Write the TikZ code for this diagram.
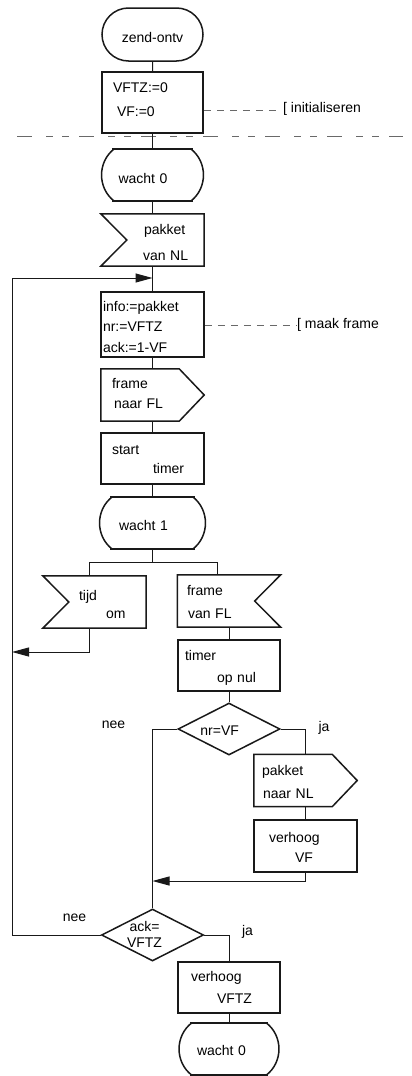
\documentclass[tikz,border=0pt]{standalone}
\usepackage{fontspec}
\setmainfont{Liberation Sans}
\usetikzlibrary{shapes.geometric, shapes.misc, arrows.meta}
\definecolor{lineBlack}{RGB}{25, 25, 25}
\definecolor{noteGray}{RGB}{105, 105, 105}
\newcommand{\decisiontext}[2]{\makebox[0pt]{#2\hspace*{#1}}}

\begin{document}
\begin{tikzpicture}[x=1pt, y=-1pt, font=\fontsize{14}{20}\selectfont,
    outline/.style={draw=lineBlack, line width=1.5pt},
    conn/.style={draw=lineBlack, line width=1pt},
    tip/.style={-{Triangle[length=17pt, width=9pt]}},
    notedash/.style={draw=noteGray, line width=1pt, dash pattern=on 7pt off 6pt},
    sepline/.style={draw=noteGray, line width=1pt,
      dash pattern=on 15pt off 14pt on 7pt off 9pt on 7pt off 10pt},
    txt/.style={inner sep=0pt, align=left, text width=#1, minimum height=52pt},
    txt/.default=103pt,
    box/.style={txt=#1, outline},
    box/.default=103pt,
    startstop/.style={rounded rectangle, outline, inner sep=0pt,
      minimum width=101pt, minimum height=53pt},
    decision/.style={diamond, outline, inner sep=0pt,
      minimum width=102pt, minimum height=52pt},
    waitbox/.style={txt=#1, append after command={\pgfextra{\pgfinterruptpath
      \draw[outline] ([xshift=-2pt]\tikzlastnode.north west) -- ([xshift=2pt]\tikzlastnode.north east)
        ([xshift=-2pt]\tikzlastnode.south west) -- ([xshift=2pt]\tikzlastnode.south east);
      \draw[outline] (\tikzlastnode.north west) .. controls +(-17pt,-13pt) and +(-17pt,13pt) .. (\tikzlastnode.south west);
      \draw[outline] (\tikzlastnode.north east) .. controls +(17pt,-13pt) and +(17pt,13pt) .. (\tikzlastnode.south east);
      \endpgfinterruptpath}}},
    recvleft/.style={txt, append after command={\pgfextra{\pgfinterruptpath
      \draw[outline] (\tikzlastnode.north west) -- (\tikzlastnode.north east) -- (\tikzlastnode.south east)
        -- (\tikzlastnode.south west) -- ([xshift=26pt]\tikzlastnode.west) -- cycle;
      \endpgfinterruptpath}}},
    recvright/.style={txt, append after command={\pgfextra{\pgfinterruptpath
      \draw[outline] (\tikzlastnode.north west) -- (\tikzlastnode.north east) -- ([xshift=-26pt]\tikzlastnode.east)
        -- (\tikzlastnode.south east) -- (\tikzlastnode.south west) -- cycle;
      \endpgfinterruptpath}}},
    sendbox/.style={txt, append after command={\pgfextra{\pgfinterruptpath
      \draw[outline] (\tikzlastnode.north west) -- ([xshift=-25pt]\tikzlastnode.north east) -- (\tikzlastnode.east)
        -- ([xshift=-25pt]\tikzlastnode.south east) -- (\tikzlastnode.south west) -- cycle;
      \endpgfinterruptpath}}},
    note/.style={inner sep=0pt, text height=5pt, text depth=0pt},
    lbl/.style={inner sep=0pt}]

  \useasboundingbox (0,0) rectangle (412,1076);

  % opstart
  \node[startstop, text height=15.6pt, text depth=0pt] (zend) at (152.5,34.5) {zend-ontv};
  \node[box=101pt, minimum height=61pt, text height=0pt, text depth=21pt] (init) at (152.5,102.5)
    {\hspace*{11pt}VFTZ:=0\\[4pt]\hspace*{15pt}VF:=0};
  \node[note, anchor=west] (initnote) at (283,110) {[ initialiseren};
  \draw[sepline] (17,136) -- (403,136);

  % hoofdlus
  \node[waitbox=76pt, text height=16.6pt, text depth=0pt] (wait0a) at (152.5,175) {\hspace*{4pt}wacht 0};
  \node[recvleft, text height=0pt, text depth=11.4pt] (pvnl) at (152.5,240)
    {\hspace*{43pt}pakket\\[5.7pt]\hspace*{42pt}van NL};
  \node[box, minimum height=65pt, text height=0pt, text depth=27pt] (info) at (152.5,324.5)
    {\hspace*{2pt}info:=pakket\\[0.5pt]\hspace*{2pt}nr:=VFTZ\\[0.5pt]\hspace*{2pt}ack:=1-VF};
  \node[note, anchor=west] (framenote) at (297,325.5) {[ maak frame};
  \node[sendbox, text height=0pt, text depth=13.4pt] (fnfl) at (152.5,395)
    {\hspace*{11pt}frame\\\hspace*{13pt}naar FL};
  \node[box, minimum height=51pt, text height=0pt, text depth=9pt] (stimer) at (152.5,458.5)
    {\hspace*{11pt}start\\[-0.7pt]\hspace*{52pt}timer};
  \node[waitbox=80pt, text height=15.4pt, text depth=0pt] (wait1) at (152.5,523) {\hspace*{6.5pt}wacht 1};

  % tijd om / frame van FL
  \node[recvleft, text height=0pt, text depth=4pt] (tijd) at (94.5,602)
    {\hspace*{36pt}tijd\\[-1.7pt]\hspace*{63pt}om};
  \node[recvright, text height=0pt, text depth=10.6pt] (fvfl) at (229,601)
    {\hspace*{9.5pt}frame\\[2.7pt]\hspace*{10.5pt}van FL};
  \node[box=102pt, minimum height=51pt, text height=0pt, text depth=11pt] (tonul) at (229,665.5)
    {\hspace*{7pt}timer\\[2.3pt]\hspace*{39pt}op nul};
  \node[decision, text height=12pt, text depth=0pt] (nrvf) at (229,729) {\decisiontext{18.6pt}{nr=VF}};
  \node[lbl] (nrnee) at (113.5,725) {nee};
  \node[lbl] (nrja) at (324,727.5) {ja};
  \node[sendbox, text height=0pt, text depth=9.6pt] (pnnl) at (305.5,780.5)
    {\hspace*{8pt}pakket\\[2.6pt]\hspace*{9pt}naar NL};
  \node[box, text height=0pt, text depth=6.6pt] (hvf) at (305.5,846)
    {\hspace*{15pt}verhoog\\[-0.4pt]\hspace*{41pt}VF};
  \coordinate (merge) at (152.5,881);
  \node[decision, text height=0pt, text depth=6.6pt] (ackq) at (152.5,935)
    {\decisiontext{16pt}{\begin{tabular}[t]{@{}c@{}}ack=\\[-4.3pt]VFTZ\end{tabular}}};
  \node[lbl] (acknee) at (74.5,918) {nee};
  \node[lbl] (ackja) at (247.5,932) {ja};
  \node[box=102pt, minimum height=51pt, text height=0pt, text depth=11.6pt] (hvftz) at (229,987.5)
    {\hspace*{13pt}verhoog\\[1.6pt]\hspace*{39pt}VFTZ};
  \node[waitbox=74pt, text height=12pt, text depth=0pt] (wait0b) at (229,1049) {\hspace*{5pt}wacht 0};

  % verbindingen
  \draw[conn] (zend) -- (init);
  \draw[conn] (init) -- (wait0a);
  \draw[conn] (wait0a) -- (pvnl);
  \draw[conn] (pvnl) -- (info);
  \draw[conn] (info) -- (fnfl);
  \draw[conn] (fnfl) -- (stimer);
  \draw[conn] (stimer) -- (wait1);
  \draw[conn] (wait1.south) -- ++(0,13) coordinate (fork) -| ([xshift=-5.5pt]tijd.north);
  \draw[conn] (fork) -| ([xshift=-12pt]fvfl.north);
  \coordinate (tijdin) at (12,652);
  \draw[conn, tip] ([xshift=-5.5pt]tijd.south) |- (tijdin);
  \draw[conn] (fvfl) -- (tonul);
  \draw[conn] (tonul) -- (nrvf);
  \draw[conn] (nrvf.east) -| (pnnl.north);
  \draw[conn] (pnnl) -- (hvf);
  \draw[conn, tip] (hvf.south) |- (merge);
  \draw[conn] (nrvf.west) -| (ackq.north);
  \coordinate (loopcorner) at (12,278);
  \coordinate (loopin) at (152.5,278);
  \draw[conn, tip] (ackq.west) -| (loopcorner) -- (loopin);
  \draw[conn] (ackq.east) -| (hvftz.north);
  \draw[conn] (hvftz) -- (wait0b);

  % commentaar
  \draw[notedash, shorten >=6pt] ([yshift=-7.5pt]init.east) -- (initnote);
  \draw[notedash] ([yshift=-1pt]info.east) -- (framenote);
\end{tikzpicture}
\end{document}
